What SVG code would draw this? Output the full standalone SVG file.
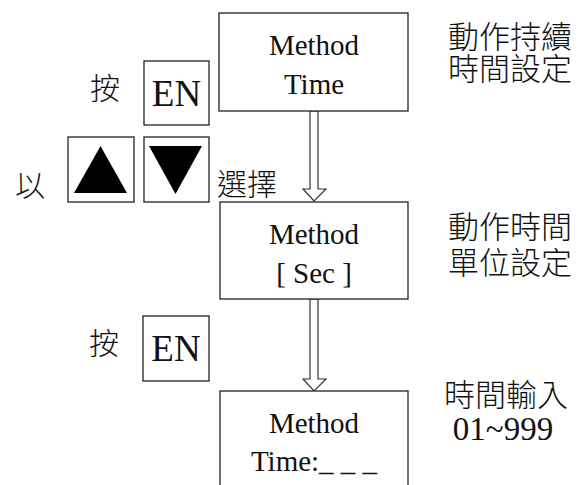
<svg xmlns="http://www.w3.org/2000/svg" width="586" height="485" viewBox="0 0 586 485">
<style>
.box{fill:#fff;stroke:#222;stroke-width:1.3}
.arr{fill:#fff;stroke:#333;stroke-width:1.2}
.lat{font-family:"Liberation Serif",serif;font-size:29px;fill:#111;text-anchor:middle}
.en{font-family:"Liberation Serif",serif;font-size:37px;fill:#111;text-anchor:middle}
.cjk{font-family:"Liberation Serif","Noto Sans CJK TC",serif;font-size:30px;font-weight:300;fill:#111;text-anchor:middle}
.note{font-family:"Liberation Serif","Noto Sans CJK TC",serif;font-size:31px;font-weight:300;fill:#111;text-anchor:middle}
</style>
<rect width="586" height="485" fill="#fff"/>
<g id="connectors">
<polygon class="arr" points="310,111 318,111 318,189 326,189 314,201 303,189 310,189"/>
<polygon class="arr" points="310,299 318,299 318,379 326,379 314,391 303,379 310,379"/>
</g>
<g id="node-method-time">
<rect class="box" x="219" y="13" width="189" height="98"/>
<text class="lat" x="314" y="55">Method</text>
<text class="lat" x="314" y="94">Time</text>
</g>
<g id="node-method-sec">
<rect class="box" x="220" y="202" width="188" height="97"/>
<text class="lat" x="314" y="244">Method</text>
<text class="lat" x="314" y="283">[ Sec ]</text>
</g>
<g id="node-method-input">
<rect class="box" x="220" y="391" width="188" height="100"/>
<text class="lat" x="314" y="433">Method</text>
<text class="lat" x="314" y="471">Time:_ _ _</text>
</g>
<g id="key-en-1">
<rect class="box" x="144" y="61" width="65" height="64"/>
<text class="en" x="176.5" y="106">EN</text>
</g>
<g id="key-up">
<rect class="box" x="68" y="137" width="66" height="65"/>
<polygon points="74,193 127,193 100.5,146" fill="#000"/>
</g>
<g id="key-down">
<rect class="box" x="144" y="137" width="65" height="65"/>
<polygon points="149,146 202,146 175.5,194" fill="#000"/>
</g>
<g id="key-en-2">
<rect class="box" x="143" y="316" width="66" height="65"/>
<text class="en" x="176" y="361">EN</text>
</g>
<g id="labels">
<text class="cjk" x="105" y="99">按</text>
<text class="cjk" x="30" y="196">以</text>
<text class="cjk" x="247" y="195">選擇</text>
<text class="cjk" x="104" y="354">按</text>
<text class="note" x="510" y="48">動作持續</text>
<text class="note" x="510" y="80">時間設定</text>
<text class="note" x="510" y="238">動作時間</text>
<text class="note" x="510" y="274">單位設定</text>
<text class="note" x="506" y="406">時間輸入</text>
<text class="lat" x="503" y="440" style="font-size:33px">01~999</text>
</g>
</svg>
